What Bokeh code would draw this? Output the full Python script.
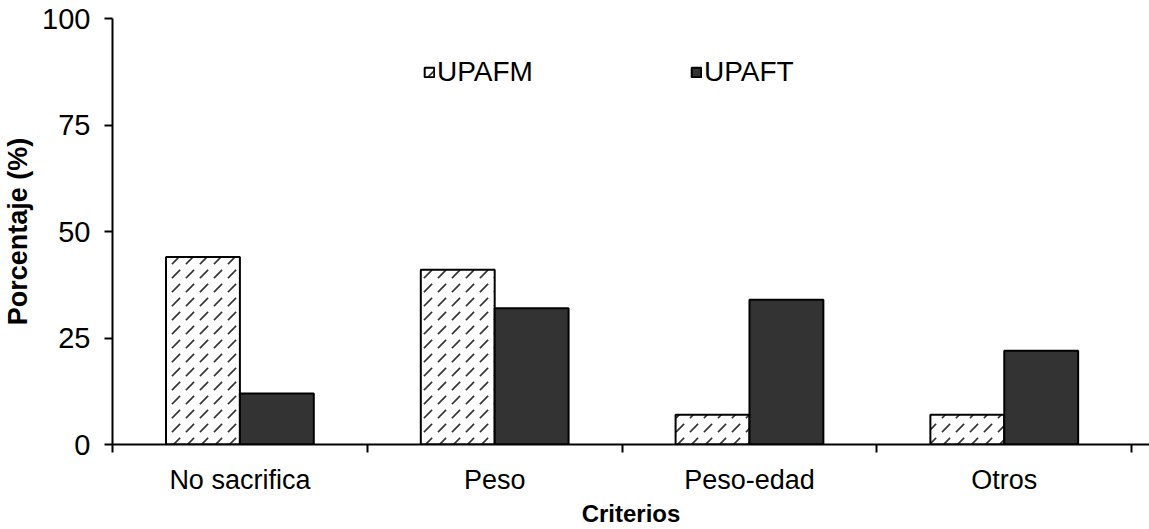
from bokeh.plotting import figure
from bokeh.models import Range1d, FixedTicker, Legend, LegendItem, ColumnDataSource
from bokeh.embed import file_html
from bokeh.resources import INLINE

# Criteria for slaughter and share of each production-unit group (%)
categories = ["No sacrifica", "Peso", "Peso-edad", "Otros"]
upafm = [44, 41, 7, 7]
upaft = [12, 32, 34, 22]
y_ticks = [0, 25, 50, 75, 100]

FONT = "Liberation Sans"
BAR_W = 0.29

centers = [i + 0.5 for i in range(len(categories))]
src_m = ColumnDataSource(dict(x=[c - BAR_W / 2 for c in centers], top=upafm))
src_t = ColumnDataSource(dict(x=[c + BAR_W / 2 for c in centers], top=upaft))

p = figure(width=1149, height=529, output_backend="svg", toolbar_location=None,
           x_range=Range1d(0, 4.07), y_range=Range1d(0, 100),
           min_border_left=111, min_border_right=0, min_border_top=18, min_border_bottom=85)
p.outline_line_color = None
p.xgrid.visible = False
p.ygrid.visible = False

# UPAFM: white bars with short slanted dashes; UPAFT: solid dark bars
r_m = p.vbar(x="x", top="top", width=BAR_W, source=src_m, fill_color="white",
             line_color="black", line_width=2, hatch_pattern="right_diagonal_dash",
             hatch_color="#333333", hatch_scale=14, hatch_weight=1.7)
r_t = p.vbar(x="x", top="top", width=BAR_W, source=src_t, fill_color="#333333",
             line_color="black", line_width=2)

# x axis: category names centred, boundary ticks between groups
xa = p.xaxis[0]
xa.ticker = FixedTicker(ticks=centers, minor_ticks=list(range(len(categories) + 1)))
xa.major_label_overrides = {c: name for c, name in zip(centers, categories)}
xa.major_tick_out = 0
xa.major_tick_in = 0
xa.minor_tick_out = 8
xa.minor_tick_in = 0
xa.minor_tick_line_width = 2
xa.axis_line_width = 2
xa.major_label_text_font = FONT
xa.major_label_text_font_size = "27px"
xa.major_label_text_color = "black"
xa.major_label_standoff = 12
xa.axis_label = "Criterios"
xa.axis_label_text_font = FONT
xa.axis_label_text_font_style = "bold"
xa.axis_label_text_font_size = "24px"
xa.axis_label_text_color = "black"
xa.axis_label_standoff = 2

ya = p.yaxis[0]
ya.ticker = FixedTicker(ticks=y_ticks, minor_ticks=[])
ya.major_tick_out = 8
ya.major_tick_in = 0
ya.major_tick_line_width = 2
ya.axis_line_width = 2
ya.major_label_text_font = FONT
ya.major_label_text_font_size = "29px"
ya.major_label_text_color = "black"
ya.major_label_standoff = 14
ya.axis_label = "Porcentaje (%)"
ya.axis_label_text_font = FONT
ya.axis_label_text_font_style = "bold"
ya.axis_label_text_font_size = "27px"
ya.axis_label_text_color = "black"
ya.axis_label_standoff = 6

legend = Legend(items=[LegendItem(label="UPAFM", renderers=[r_m]),
                       LegendItem(label="UPAFT", renderers=[r_t])],
                orientation="horizontal", location=(311, 356),
                padding=0, margin=0, spacing=157, label_standoff=2,
                glyph_width=12, glyph_height=12,
                border_line_color=None, background_fill_alpha=0,
                label_text_font=FONT, label_text_font_size="28px",
                label_text_color="black")
p.add_layout(legend, "center")

open("out.html", "w").write(file_html(p, INLINE))
